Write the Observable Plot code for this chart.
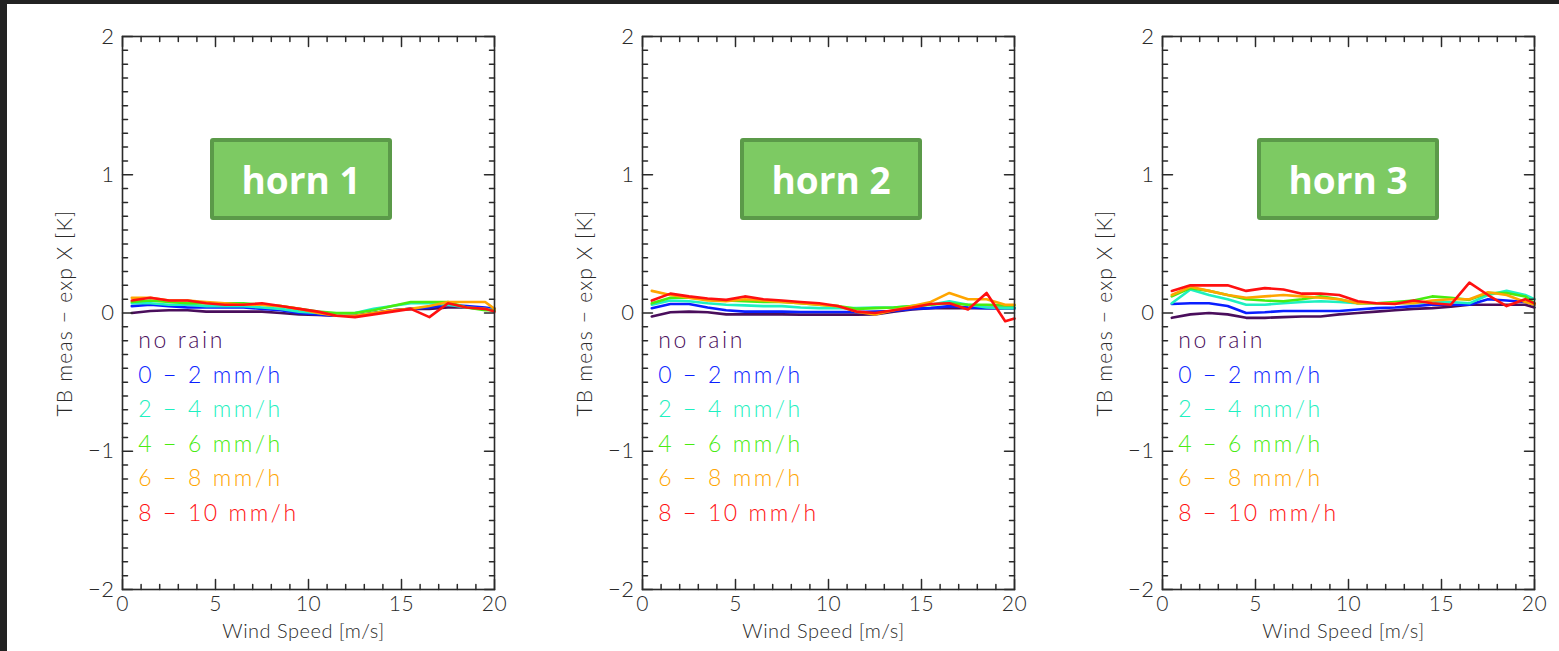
<!DOCTYPE html>
<html><head><meta charset="utf-8">
<script src="https://cdn.jsdelivr.net/npm/d3@7"></script>
<script src="https://cdn.jsdelivr.net/npm/@observablehq/plot@0.6"></script>
<style>
html,body{margin:0;padding:0;background:#222;}
#page{position:relative;width:1559px;height:651px;overflow:hidden;background:#222;}
#sheet{position:absolute;left:7px;top:4px;right:0;bottom:0;background:#fff;}
.panel{position:absolute;top:0;}
.horn{position:absolute;top:138px;width:174px;height:74px;background:#7dca63;border:4px solid #5b9a49;border-radius:3px;color:#fff;font-family:"Open Sans";font-weight:700;font-size:37px;display:flex;align-items:center;justify-content:center;box-sizing:content-box;}
</style></head><body><div id="page"><div id="sheet"></div></div>
<script>
// ---- data ----
const windSpeed = [0.5,1.5,2.5,3.5,4.5,5.5,6.5,7.5,8.5,9.5,10.5,11.5,12.5,13.5,14.5,15.5,16.5,17.5,18.5,19.5,20];
const rainClasses = ["no rain","0 − 2 mm/h","2 − 4 mm/h","4 − 6 mm/h","6 − 8 mm/h","8 − 10 mm/h"];
const lineColors = ["#4a0e5c","#0a1eff","#1ef0c0","#48ec10","#ffa500","#ff1010"];
const hornNames = ["horn 1","horn 2","horn 3"];
const xDomain = [0, 20];
const yDomain = [-2, 2];
const xMajorTicks = [0,5,10,15,20];
const yMajorTicks = [-2,-1,0,1,2];
const xLabel = "Wind Speed [m/s]";
const yLabel = "TB meas − exp X [K]";

const horn1NoRain = [0.0,0.015,0.02,0.02,0.01,0.01,0.01,0.01,0.0,-0.01,-0.015,-0.02,-0.02,0.0,0.02,0.03,0.03,0.04,0.04,0.03,0.03];
const horn1R0to2  = [0.05,0.06,0.05,0.04,0.04,0.04,0.04,0.03,0.02,0.0,-0.01,-0.02,-0.02,0.0,0.02,0.03,0.04,0.06,0.05,0.04,0.03];
const horn1R2to4  = [0.07,0.07,0.06,0.06,0.05,0.05,0.05,0.04,0.03,0.01,0.0,-0.01,0.0,0.03,0.05,0.07,0.07,0.06,0.04,0.03,0.02];
const horn1R4to6  = [0.08,0.09,0.08,0.07,0.07,0.07,0.07,0.06,0.05,0.03,0.01,0.0,0.0,0.02,0.05,0.08,0.08,0.08,0.04,0.02,0.02];
const horn1R6to8  = [0.11,0.11,0.09,0.09,0.08,0.07,0.06,0.06,0.05,0.03,0.0,-0.02,-0.02,0.0,0.02,0.03,0.05,0.08,0.08,0.08,0.03];
const horn1R8to10 = [0.09,0.11,0.09,0.09,0.07,0.06,0.06,0.07,0.05,0.03,0.01,-0.02,-0.03,-0.01,0.01,0.03,-0.03,0.07,0.04,0.03,0.01];

const horn2NoRain = [-0.025,0.005,0.01,0.005,-0.01,-0.01,-0.01,-0.01,-0.012,-0.012,-0.012,-0.012,-0.01,0.01,0.025,0.035,0.035,0.035,0.035,0.035,0.035];
const horn2R0to2  = [0.035,0.065,0.065,0.04,0.02,0.01,0.01,0.01,0.007,0.007,0.007,0.007,0.01,0.015,0.03,0.035,0.05,0.04,0.035,0.035,0.035];
const horn2R2to4  = [0.06,0.09,0.085,0.07,0.06,0.055,0.05,0.05,0.04,0.035,0.035,0.035,0.04,0.04,0.05,0.06,0.085,0.06,0.04,0.035,0.035];
const horn2R4to6  = [0.07,0.11,0.11,0.1,0.09,0.085,0.08,0.08,0.07,0.06,0.05,0.03,0.035,0.04,0.05,0.06,0.07,0.06,0.06,0.055,0.055];
const horn2R6to8  = [0.16,0.13,0.11,0.09,0.085,0.1,0.09,0.08,0.07,0.06,0.05,0.01,-0.01,0.02,0.05,0.08,0.145,0.1,0.1,0.06,0.06];
const horn2R8to10 = [0.09,0.14,0.12,0.105,0.095,0.12,0.1,0.09,0.08,0.07,0.05,0.01,0.0,0.02,0.04,0.065,0.07,0.025,0.145,-0.06,-0.04];

const horn3NoRain = [-0.035,-0.01,0.0,-0.01,-0.035,-0.035,-0.03,-0.025,-0.025,-0.01,0.0,0.01,0.02,0.03,0.035,0.045,0.06,0.06,0.06,0.06,0.04];
const horn3R0to2  = [0.065,0.07,0.07,0.05,0.0,0.005,0.015,0.015,0.015,0.015,0.025,0.035,0.04,0.05,0.06,0.06,0.06,0.1,0.09,0.08,0.06];
const horn3R2to4  = [0.07,0.17,0.13,0.1,0.06,0.06,0.07,0.08,0.085,0.08,0.07,0.07,0.07,0.07,0.08,0.08,0.07,0.13,0.16,0.13,0.1];
const horn3R4to6  = [0.12,0.18,0.16,0.13,0.1,0.09,0.085,0.1,0.12,0.1,0.07,0.07,0.08,0.09,0.12,0.11,0.095,0.145,0.145,0.12,0.07];
const horn3R6to8  = [0.13,0.19,0.16,0.13,0.11,0.12,0.13,0.12,0.11,0.1,0.07,0.07,0.07,0.07,0.09,0.1,0.1,0.15,0.13,0.08,0.06];
const horn3R8to10 = [0.16,0.2,0.2,0.2,0.16,0.18,0.17,0.14,0.14,0.13,0.085,0.07,0.065,0.09,0.07,0.06,0.22,0.13,0.05,0.1,0.07];

const hornSeries = [
  [horn1NoRain,horn1R0to2,horn1R2to4,horn1R4to6,horn1R6to8,horn1R8to10],
  [horn2NoRain,horn2R0to2,horn2R2to4,horn2R4to6,horn2R6to8,horn2R8to10],
  [horn3NoRain,horn3R0to2,horn3R2to4,horn3R4to6,horn3R6to8,horn3R8to10]
];

// ---- layout ----
const panelW = 520, panelH = 651;
const hornBoxLeft = [210, 740, 1257];
const page = document.getElementById("page");
const xMinor = d3.range(0, 20.001, 1).filter(v => !xMajorTicks.includes(v));
const yMinor = d3.range(-20, 21, 1).map(v => v / 10).filter(v => !yMajorTicks.includes(v));
const ink = "#2a2a2a";
const font = "Lato";
const fmt = d => (d < 0 ? "−" : "") + Math.abs(d);

// inward tick marks as zero-width spikes
function ticksX(vals, atY, rot, len) {
  return Plot.vector(vals, {x: d => d, y: () => atY, rotate: rot, length: len, anchor: "start", shape: "spike", r: 0, stroke: ink, strokeWidth: 1.5});
}
function ticksY(vals, atX, rot, len) {
  return Plot.vector(vals, {x: () => atX, y: d => d, rotate: rot, length: len, anchor: "start", shape: "spike", r: 0, stroke: ink, strokeWidth: 1.5});
}

hornSeries.forEach((series, h) => {
  const rows = [];
  series.forEach((vals, k) => vals.forEach((v, i) => rows.push({ws: windSpeed[i], tb: v, cls: rainClasses[k]})));
  const plot = Plot.plot({
    width: panelW, height: panelH,
    marginLeft: 122, marginRight: 26, marginTop: 36, marginBottom: 62,
    style: {background: "transparent", fontFamily: font, fontSize: "20px", fontWeight: 300, color: ink, overflow: "visible"},
    x: {domain: xDomain},
    y: {domain: yDomain},
    color: {domain: rainClasses, range: lineColors},
    marks: [
      Plot.line(rows, {x: "ws", y: "tb", z: "cls", stroke: "cls", strokeWidth: 2.6, curve: "linear"}),
      Plot.frame({stroke: ink, strokeWidth: 1.6}),
      Plot.axisX({anchor: "bottom", ticks: xMajorTicks, tickSize: 0, tickPadding: 7, tickFormat: fmt, label: null, fill: ink, fontWeight: 300, fontSize: 21}),
      Plot.axisY({anchor: "left", ticks: yMajorTicks, tickSize: 0, tickPadding: 8, tickFormat: fmt, label: null, fill: ink, fontWeight: 300, fontSize: 22}),
      ticksX(xMajorTicks, yDomain[0], 0, 10),
      ticksX(xMinor, yDomain[0], 0, 5),
      ticksX(xMajorTicks, yDomain[1], 180, 10),
      ticksX(xMinor, yDomain[1], 180, 5),
      ticksY(yMajorTicks, xDomain[0], 90, 10),
      ticksY(yMinor, xDomain[0], 90, 5),
      ticksY(yMajorTicks, xDomain[1], -90, 10),
      ticksY(yMinor, xDomain[1], -90, 5),
      Plot.text([xLabel], {frameAnchor: "bottom", textAnchor: "middle", dy: 42, dx: -5, text: d => d, fill: ink, fontSize: 20, fontWeight: 300, lineAnchor: "middle"}),
      Plot.text([yLabel], {frameAnchor: "left", textAnchor: "middle", dx: -57, rotate: -90, text: d => d, fill: ink, fontSize: 21, fontWeight: 300}),
      Plot.text(rainClasses, {x: () => 0.85, y: (d, i) => -0.2 - 0.25 * i, text: d => d, fill: d => d, textAnchor: "start", fontSize: 23, fontWeight: 300})
    ]
  });
  plot.classList.add("panel");
  plot.style.left = (h * panelW) + "px";
  plot.style.position = "absolute";
  plot.style.maxWidth = "none";
  plot.style.letterSpacing = "0.5px";
  plot.querySelectorAll("text").forEach(t => {
    const s = t.textContent;
    if (rainClasses.includes(s)) t.setAttribute("letter-spacing", "2.6");
    if (s === yLabel) t.setAttribute("letter-spacing", "1.2");
  });
  page.appendChild(plot);

  const box = document.createElement("div");
  box.className = "horn";
  box.textContent = hornNames[h];
  box.style.left = hornBoxLeft[h] + "px";
  page.appendChild(box);
});
</script></body></html>
